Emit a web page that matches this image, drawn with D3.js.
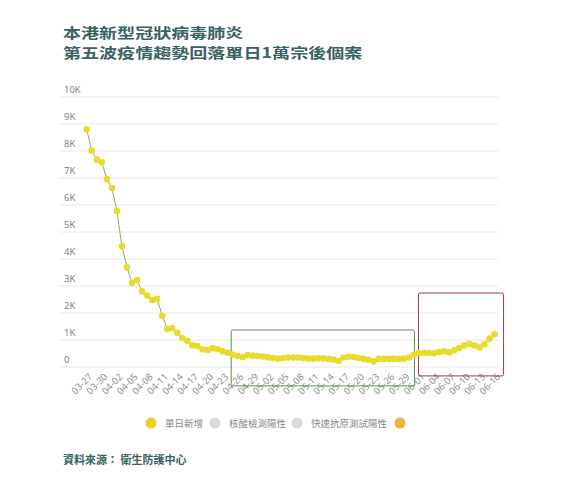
<!DOCTYPE html>
<html>
<head>
<meta charset="utf-8">
<script src="https://cdn.jsdelivr.net/npm/d3@7"></script>
<style>
  body { margin: 0; background: #fff; }
  svg { display: block; }
</style>
</head>
<body>
<svg id="chart"></svg>
<script>
// daily new cases, 03-27 .. 06-16 (one per day)
const dates = d3.timeDay.range(new Date(2022, 2, 27), new Date(2022, 5, 17)).map(d3.timeFormat("%m-%d"));
const dailyCases = [
  8800, 8010, 7680, 7580, 6960, 6630, 5780, 4470, 3690, 3120,
  3220, 2800, 2650, 2480, 2530, 1900, 1410, 1440, 1270, 1070,
  970, 800, 780, 660, 630, 700, 660, 580, 530, 460,
  410, 360, 440, 420, 410, 390, 360, 330, 310, 330,
  350, 350, 350, 330, 310, 310, 320, 320, 300, 280,
  220, 350, 380, 370, 330, 300, 270, 210, 300, 300,
  300, 310, 300, 310, 350, 460, 520, 530, 520, 510,
  560, 580, 540, 620, 700, 800, 860, 800, 720, 840,
  1050, 1210
];
const yTicks = [0, 1000, 2000, 3000, 4000, 5000, 6000, 7000, 8000, 9000, 10000];
const titleLines = ["本港新型冠狀病毒肺炎", "第五波疫情趨勢回落單日1萬宗後個案"];
const legendLabels = ["單日新增", "核酸檢測陽性", "快速抗原測試陽性", ""];
const legendColors = ["#efd21e", "#dadada", "#dadada", "#efb43a"];
// highlight boxes, in day index / case units
const boxes = [
  { x0: 28.7, x1: 65.1, y0: 1370, y1: -700, color: "#5f8f52" },
  { x0: 65.9, x1: 82.8, y0: 2740, y1: -330, color: "#9c3b3b" }
];

const width = 574, height = 486;
const svg = d3.select("#chart").attr("width", width).attr("height", height);

const fontStack = "'Open Sans', 'Noto Sans CJK TC', sans-serif";
const cjkFont = "'Noto Sans CJK TC', 'Noto Sans', sans-serif";
const titleColor = "#3b6262";

//title, two lines, widened like the original
svg.append("g")
  .attr("transform", "translate(63,0) scale(1.29,1)")
  .selectAll("text")
  .data(titleLines)
  .enter().append("text")
  .attr("x", 0)
  .attr("y", (d, i) => 38 + i * 20.5)
  .attr("font-family", cjkFont).attr("font-weight", "bold")
  .attr("font-size", "14px")
  .attr("fill", titleColor)
  .text(d => d);

// scales
const x = d3.scaleLinear().domain([0, dates.length - 1]).range([86.7, 494.5]);
const y = d3.scaleLinear().domain([0, 10000]).range([367, 97]);

// grid + y labels
const grid = svg.append("g");
grid.selectAll("line")
  .data(yTicks)
  .enter().append("line")
  .attr("x1", 60).attr("x2", 498)
  .attr("y1", d => y(d)).attr("y2", d => y(d))
  .attr("stroke", "#e8e8e8").attr("stroke-width", 1);
grid.selectAll("text")
  .data(yTicks)
  .enter().append("text")
  .attr("x", 64).attr("y", d => y(d) - 4)
  .attr("font-family", fontStack).attr("font-size", "9.5px")
  .attr("fill", "#777")
  .text(d => d === 0 ? "0" : (d / 1000) + "K");

// x labels every 3 days
svg.append("g").selectAll("text")
  .data(dates.map((d, i) => ({ d, i })).filter(o => o.i % 3 === 0))
  .enter().append("text")
  .attr("transform", o => `translate(${x(o.i) + 4},${375}) rotate(-45)`)
  .attr("text-anchor", "end")
  .attr("dy", "0.35em")
  .attr("font-family", fontStack).attr("font-size", "9.5px")
  .attr("fill", "#888")
  .text(o => o.d);

// boxes
svg.append("g").selectAll("rect")
  .data(boxes)
  .enter().append("rect")
  .attr("x", b => x(b.x0)).attr("y", b => y(b.y0))
  .attr("width", b => x(b.x1) - x(b.x0))
  .attr("height", b => y(b.y1) - y(b.y0))
  .attr("fill", "none").attr("stroke", b => b.color)
  .attr("stroke-width", 1).attr("rx", 1.5);

// line + dots
const line = d3.line().x((d, i) => x(i)).y(d => y(d));
svg.append("path")
  .datum(dailyCases)
  .attr("d", line)
  .attr("fill", "none")
  .attr("stroke", "#a7a552").attr("stroke-width", 1);
svg.append("g").selectAll("circle")
  .data(dailyCases)
  .enter().append("circle")
  .attr("cx", (d, i) => x(i)).attr("cy", d => y(d))
  .attr("r", 3.3)
  .attr("fill", "#e7dc2e");

// legend
const legendX = [151, 215, 297, 400];
const legend = svg.append("g");
legend.selectAll("circle")
  .data(legendColors)
  .enter().append("circle")
  .attr("cx", (d, i) => legendX[i]).attr("cy", 423)
  .attr("r", 5.5).attr("fill", d => d);
legend.selectAll("text")
  .data(legendLabels)
  .enter().append("text")
  .attr("x", (d, i) => legendX[i] + 14).attr("y", 426.5)
  .attr("font-family", cjkFont).attr("font-size", "9.5px")
  .attr("fill", "#888")
  .text(d => d);

// source
svg.append("text")
  .attr("x", 63).attr("y", 464)
  .attr("font-family", cjkFont).attr("font-weight", "bold")
  .attr("font-size", "11px").attr("fill", titleColor)
  .text("資料來源： 衛生防護中心");
</script>
</body>
</html>
